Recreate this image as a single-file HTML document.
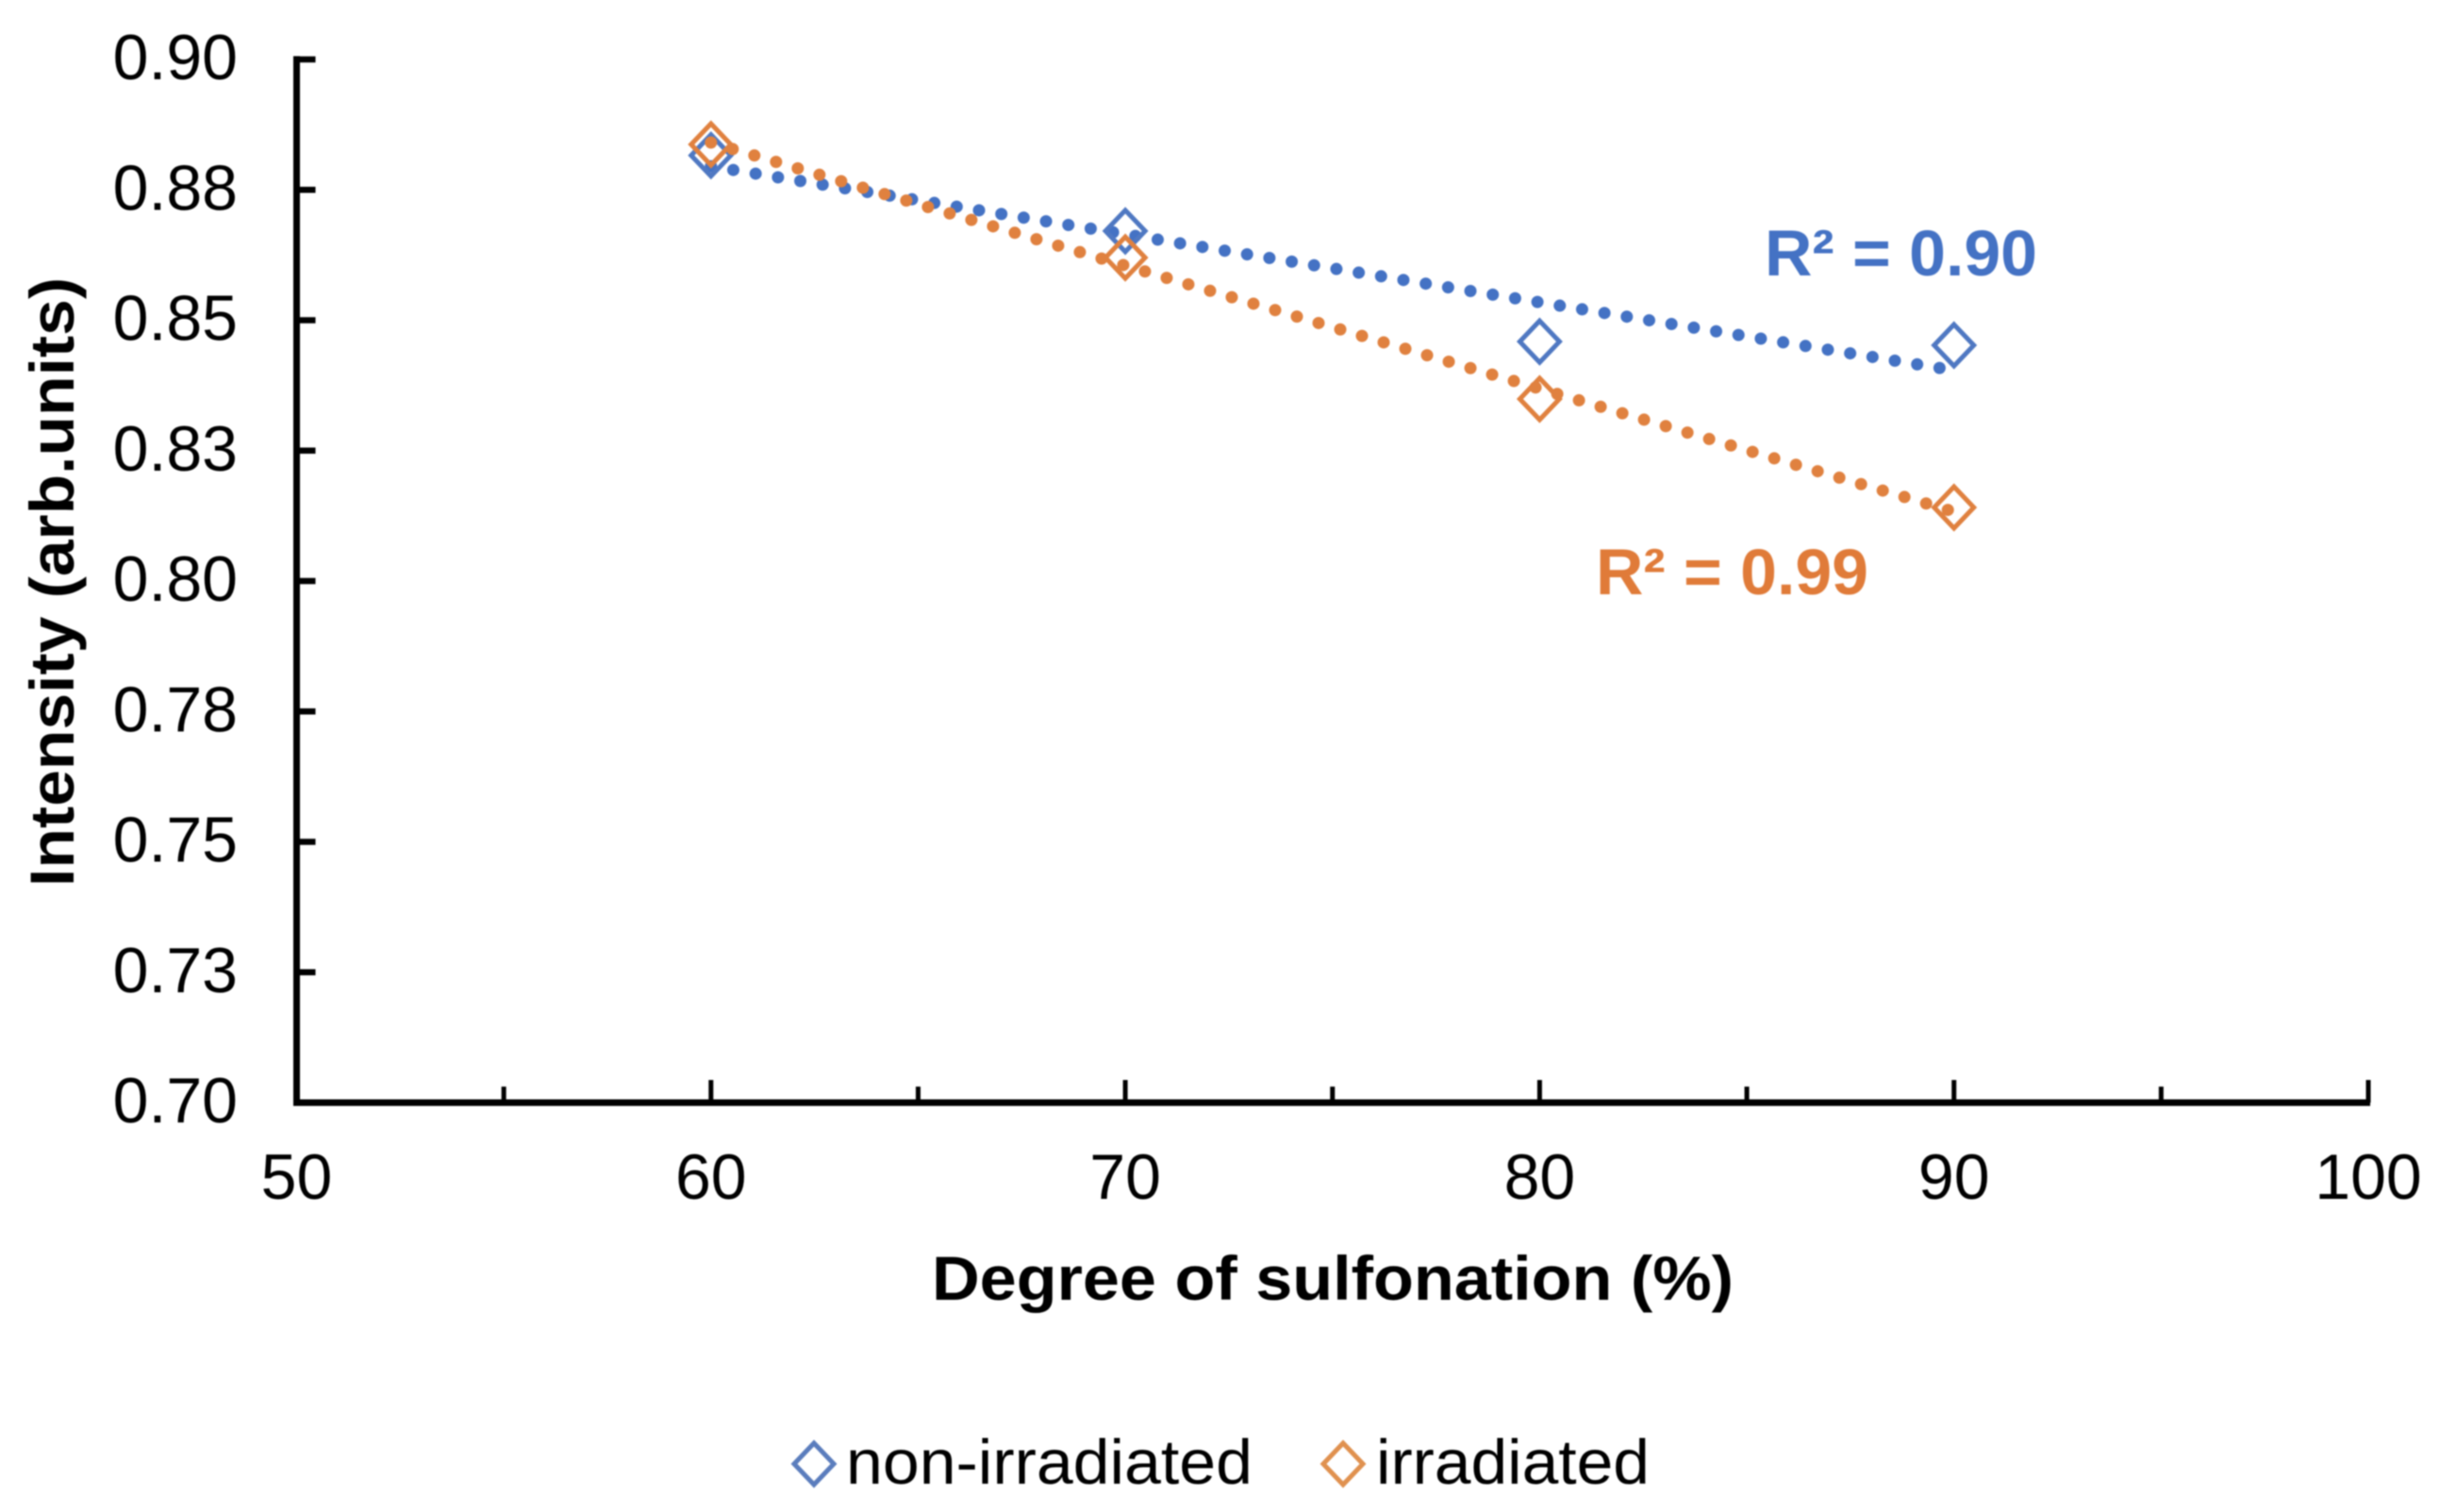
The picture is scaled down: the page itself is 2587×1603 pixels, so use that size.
<!DOCTYPE html>
<html lang="en">
<head>
<meta charset="utf-8">
<title>Intensity vs degree of sulfonation</title>
<style>
html,body{margin:0;padding:0;background:#fff;}
svg{display:block;filter:blur(0.7px);}
text{font-family:"Liberation Sans",Arial,sans-serif;fill:#000;}
.tick{font-size:68px;}
.title{font-size:66px;font-weight:bold;}
.r2{font-size:69px;font-weight:bold;}
.legend{font-size:67px;}
</style>
</head>
<body>
<svg id="chart" xmlns="http://www.w3.org/2000/svg" width="2587" height="1603" viewBox="0 0 2587 1603">
  <rect x="0" y="0" width="2587" height="1603" fill="#fff"/>
  <g id="axes"></g>
  <g id="series"></g>
  <text class="title" x="1413" y="1378" text-anchor="middle" textLength="850" lengthAdjust="spacingAndGlyphs">Degree of sulfonation (%)</text>
  <text class="title" x="0" y="0" text-anchor="middle" transform="translate(78 617) rotate(-90)" textLength="646" lengthAdjust="spacingAndGlyphs">Intensity (arb.units)</text>
  <text class="r2" x="1871" y="292" textLength="289" lengthAdjust="spacingAndGlyphs" style="fill:#4472C4">R² = 0.90</text>
  <text class="r2" x="1692" y="630" textLength="289" lengthAdjust="spacingAndGlyphs" style="fill:#E07B39">R² = 0.99</text>
  <g>
    <g>
      <path d="M863 1530 L884 1552 L863 1574 L842 1552 Z" fill="none" stroke="#5B7DBD" stroke-width="5"/>
      <text class="legend" x="897" y="1573" textLength="431" lengthAdjust="spacingAndGlyphs">non-irradiated</text>
    </g>
    <g>
      <path d="M1424 1530 L1445 1552 L1424 1574 L1403 1552 Z" fill="none" stroke="#E0914F" stroke-width="5"/>
      <text class="legend" x="1459" y="1573" textLength="290" lengthAdjust="spacingAndGlyphs">irradiated</text>
    </g>
  </g>
</svg>
<script>
const degreeValues = [60, 70, 80, 90];
const nonIrradiatedValues = [0.8816, 0.8671, 0.8459, 0.8452];
const irradiatedValues = [0.8837, 0.8620, 0.8349, 0.8141];
const xMajorTicks = [50, 60, 70, 80, 90, 100];
const xMinorTicks = [55, 65, 75, 85, 95];
const yTickValues = [0.90, 0.875, 0.85, 0.825, 0.80, 0.775, 0.75, 0.725, 0.70];
const yTickLabels = ['0.90', '0.88', '0.85', '0.83', '0.80', '0.78', '0.75', '0.73', '0.70'];

const NS = 'http://www.w3.org/2000/svg';
const axes = document.getElementById('axes');
const seriesGroup = document.getElementById('series');

function xScale(v) { return 314.5 + (v - 50) * (2511 - 314.5) / 50; }
function yScale(v) { return 1169 - (v - 0.70) * (1169 - 63) / 0.20; }

function make(tag, attrs, parent) {
  const node = document.createElementNS(NS, tag);
  for (const k in attrs) node.setAttribute(k, attrs[k]);
  parent.appendChild(node);
  return node;
}

function fit(xs, ys) {
  const mx = xs.reduce((a, b) => a + b, 0) / xs.length;
  const my = ys.reduce((a, b) => a + b, 0) / ys.length;
  let num = 0, den = 0;
  xs.forEach((x, i) => { num += (x - mx) * (ys[i] - my); den += (x - mx) * (x - mx); });
  const slope = num / den;
  return x => my + slope * (x - mx);
}

// Axis lines
const yAxisLine = make('line', {x1: xScale(50), y1: yScale(0.90) - 3.5, x2: xScale(50), y2: yScale(0.70) + 3.5, stroke: '#000', 'stroke-width': 7}, axes);


const xAxisLine = make('line', {x1: xScale(50) - 3.5, y1: yScale(0.70), x2: xScale(100) + 2, y2: yScale(0.70), stroke: '#000', 'stroke-width': 7}, axes);



// Y ticks and labels
yTickValues.forEach((v, i) => {
  const tick = make('line', {x1: xScale(50), y1: yScale(v), x2: xScale(50) + 20, y2: yScale(v), stroke: '#000', 'stroke-width': 6.5}, axes);
  
  
  const label = make('text', {x: 252, y: yScale(v) + 21, 'text-anchor': 'end', class: 'tick'}, axes);
  
  
  label.textContent = yTickLabels[i];
});

// X ticks and labels
xMajorTicks.forEach(v => {
  const tick = make('line', {x1: xScale(v), y1: yScale(0.70), x2: xScale(v), y2: yScale(0.70) - 24, stroke: '#000', 'stroke-width': 5}, axes);
  
  
  const label = make('text', {x: xScale(v), y: 1271, 'text-anchor': 'middle', class: 'tick'}, axes);
  
  
  label.textContent = String(v);
});
xMinorTicks.forEach(v => {
  const tick = make('line', {x1: xScale(v), y1: yScale(0.70), x2: xScale(v), y2: yScale(0.70) - 17, stroke: '#000', 'stroke-width': 5}, axes);
  
  
});

// Series: dotted trendline then diamond markers
function drawSeries(values, lineColor, markerColor, prefix) {
  const group = make('g', {}, seriesGroup);
  
  
  const trend = fit(degreeValues, values);
  const first = degreeValues[0];
  const last = degreeValues[degreeValues.length - 1];
  const line = make('line', {
    x1: xScale(first), y1: yScale(trend(first)),
    x2: xScale(last), y2: yScale(trend(last)),
    stroke: lineColor, 'stroke-width': 13, 'stroke-linecap': 'round', 'stroke-dasharray': '0 24'
  }, group);
  
  
  values.forEach((v, i) => {
    const cx = xScale(degreeValues[i]);
    const cy = yScale(v);
    const d = 'M' + cx + ' ' + (cy - 22) + ' L' + (cx + 21) + ' ' + cy + ' L' + cx + ' ' + (cy + 22) + ' L' + (cx - 21) + ' ' + cy + ' Z';
    const marker = make('path', {d: d, fill: 'none', stroke: markerColor, 'stroke-width': 5}, group);
    
    
  });
}
drawSeries(nonIrradiatedValues, '#4472C4', '#4F78C2', 'non-irradiated');
drawSeries(irradiatedValues, '#E0813F', '#E0813F', 'irradiated');
</script>
</body>
</html>
